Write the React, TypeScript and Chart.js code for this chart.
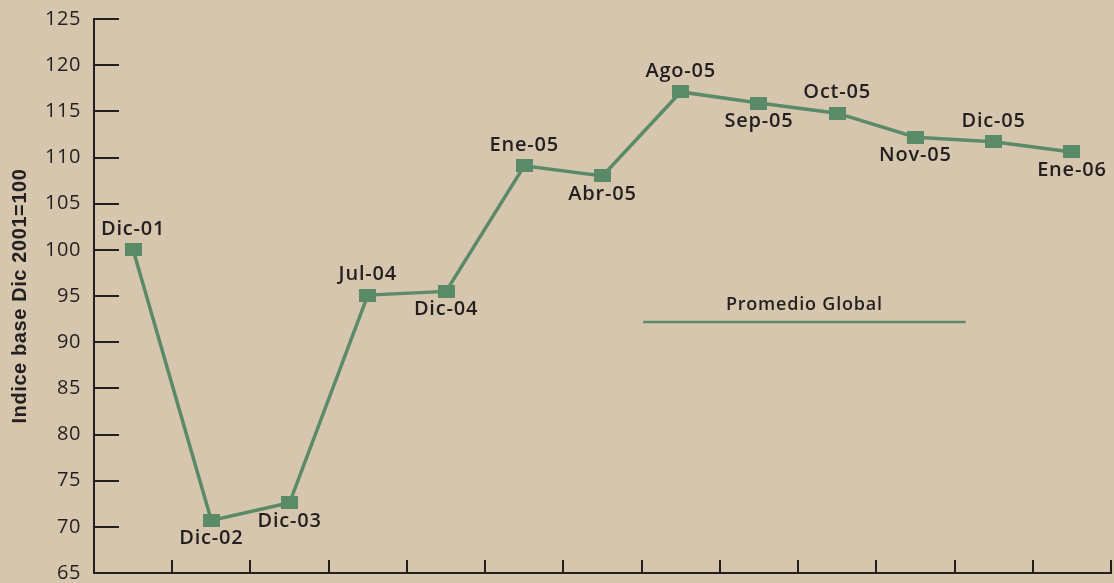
import { useEffect, useRef } from 'react';
import { Chart, registerables } from 'chart.js';

Chart.register(...registerables);

const categories = ['Dic-01', 'Dic-02', 'Dic-03', 'Jul-04', 'Dic-04', 'Ene-05', 'Abr-05', 'Ago-05', 'Sep-05', 'Oct-05', 'Nov-05', 'Dic-05', 'Ene-06'];
const indexValues = [100, 70.7, 72.6, 95.1, 95.5, 109.1, 108.0, 117.1, 115.9, 114.8, 112.2, 111.7, 110.6];
const labelSide = ['above', 'below', 'below', 'above', 'below', 'above', 'below', 'above', 'below', 'above', 'below', 'above', 'below'];
const yMin = 65;
const yMax = 125;
const yStep = 5;
const yTitle = 'Indice base Dic 2001=100';
const legendLabel = 'Promedio Global';

const BG = '#d6c6ae';
const GREEN = '#5a8a68';
const INK = '#231f20';
const FONT = "'Open Sans', 'Noto Sans', sans-serif";

function makeMarker() {
  const c = document.createElement('canvas');
  c.width = 17;
  c.height = 13;
  const g = c.getContext('2d')!;
  g.fillStyle = GREEN;
  g.fillRect(0, 0, 17, 13);
  return c;
}

const bgPlugin = {
  id: 'bg',
  beforeDraw(chart: any) {
    const { ctx, width, height } = chart;
    ctx.save();
    ctx.fillStyle = BG;
    ctx.fillRect(0, 0, width, height);
    ctx.restore();
    (ctx as any).letterSpacing = '0.6px';
  },
};

const innerTicksPlugin = {
  id: 'innerTicks',
  afterDraw(chart: any) {
    const { ctx, chartArea, scales } = chart;
    const x = scales.x;
    const y = scales.y;
    ctx.save();
    ctx.strokeStyle = INK;
    ctx.lineWidth = 2;
    y.ticks.forEach((t: any) => {
      const py = Math.round(y.getPixelForValue(t.value));
      ctx.beginPath();
      ctx.moveTo(chartArea.left, py);
      ctx.lineTo(chartArea.left + 25, py);
      ctx.stroke();
    });
    for (let i = 1; i <= categories.length; i++) {
      const px = Math.round(x.getPixelForValue(i - 0.5));
      ctx.beginPath();
      ctx.moveTo(px, chartArea.bottom);
      ctx.lineTo(px, chartArea.bottom - 13);
      ctx.stroke();
    }
    ctx.restore();
  },
};

const pointLabelPlugin = {
  id: 'pointLabels',
  afterDatasetsDraw(chart: any) {
    const { ctx } = chart;
    const meta = chart.getDatasetMeta(0);
    ctx.save();
    (ctx as any).letterSpacing = '0.8px';
    ctx.fillStyle = INK;
    ctx.font = `600 20px ${FONT}`;
    ctx.textAlign = 'center';
    ctx.textBaseline = 'middle';
    meta.data.forEach((pt: any, i: number) => {
      const dy = labelSide[i] === 'above' ? -21 : 18;
      ctx.fillText(categories[i], pt.x, pt.y + dy);
    });
    ctx.restore();
  },
};

const legendPlugin = {
  id: 'promedioLegend',
  afterDraw(chart: any) {
    const { ctx, chartArea } = chart;
    const w = chartArea.right - chartArea.left;
    const h = chartArea.bottom - chartArea.top;
    const x1 = chartArea.left + w * 0.54;
    const x2 = chartArea.left + w * 0.857;
    const ly = chartArea.top + h * 0.547;
    ctx.save();
    ctx.strokeStyle = GREEN;
    ctx.lineWidth = 2.5;
    ctx.beginPath();
    ctx.moveTo(x1, ly);
    ctx.lineTo(x2, ly);
    ctx.stroke();
    (ctx as any).letterSpacing = '0.8px';
    ctx.fillStyle = INK;
    ctx.font = `600 18px ${FONT}`;
    ctx.textAlign = 'center';
    ctx.textBaseline = 'middle';
    ctx.fillText(legendLabel, (x1 + x2) / 2, chartArea.top + h * 0.516);
    ctx.restore();
  },
};

export default function App() {
  const ref = useRef<HTMLCanvasElement | null>(null);

  useEffect(() => {
    document.body.style.margin = '0';
    document.body.style.background = BG;
    const canvas = ref.current!;
    const chart = new Chart(canvas, {
      type: 'line',
      data: {
        labels: categories,
        datasets: [
          {
            data: indexValues,
            borderColor: GREEN,
            borderWidth: 3.5,
            pointStyle: makeMarker() as any,
            pointRadius: 8,
            pointBackgroundColor: GREEN,
            pointBorderColor: GREEN,
            tension: 0,
          },
        ],
      },
      options: {
        responsive: false,
        animation: false,
        devicePixelRatio: 1,
        layout: { autoPadding: false, padding: { top: 19, right: 3, left: 0, bottom: 0 } },
        plugins: { legend: { display: false }, tooltip: { enabled: false } },
        scales: {
          x: {
            type: 'category',
            offset: true,
            ticks: { display: false },
            grid: { display: false, drawTicks: false, offset: true },
            border: { display: true, color: INK, width: 2 },
            afterFit(scale: any) {
              scale.height = 10;
              scale.paddingLeft = 0;
              scale.paddingRight = 0;
            },
          },
          y: {
            min: yMin,
            max: yMax,
            ticks: {
              stepSize: yStep,
              color: INK,
              padding: 13,
              font: { family: FONT, size: 20 },
            },
            grid: { drawOnChartArea: false, drawTicks: false },
            border: { display: true, color: INK, width: 2 },
            title: {
              display: true,
              text: yTitle,
              color: INK,
              font: { family: "'Liberation Sans', Arial, sans-serif", size: 20, weight: 'bold' },
              padding: { top: 8, bottom: 0 },
            },
            afterFit(scale: any) {
              scale.width = 94;
              scale.paddingTop = 0;
              scale.paddingBottom = 0;
            },
          },
        },
      },
      plugins: [bgPlugin, innerTicksPlugin, pointLabelPlugin, legendPlugin],
    });
    return () => chart.destroy();
  }, []);

  return (
    <div style={{ position: 'absolute', left: 0, top: 0, width: 1114, height: 583, background: BG }}>
      <canvas ref={ref} width={1114} height={583} style={{ display: 'block' }} />
    </div>
  );
}
